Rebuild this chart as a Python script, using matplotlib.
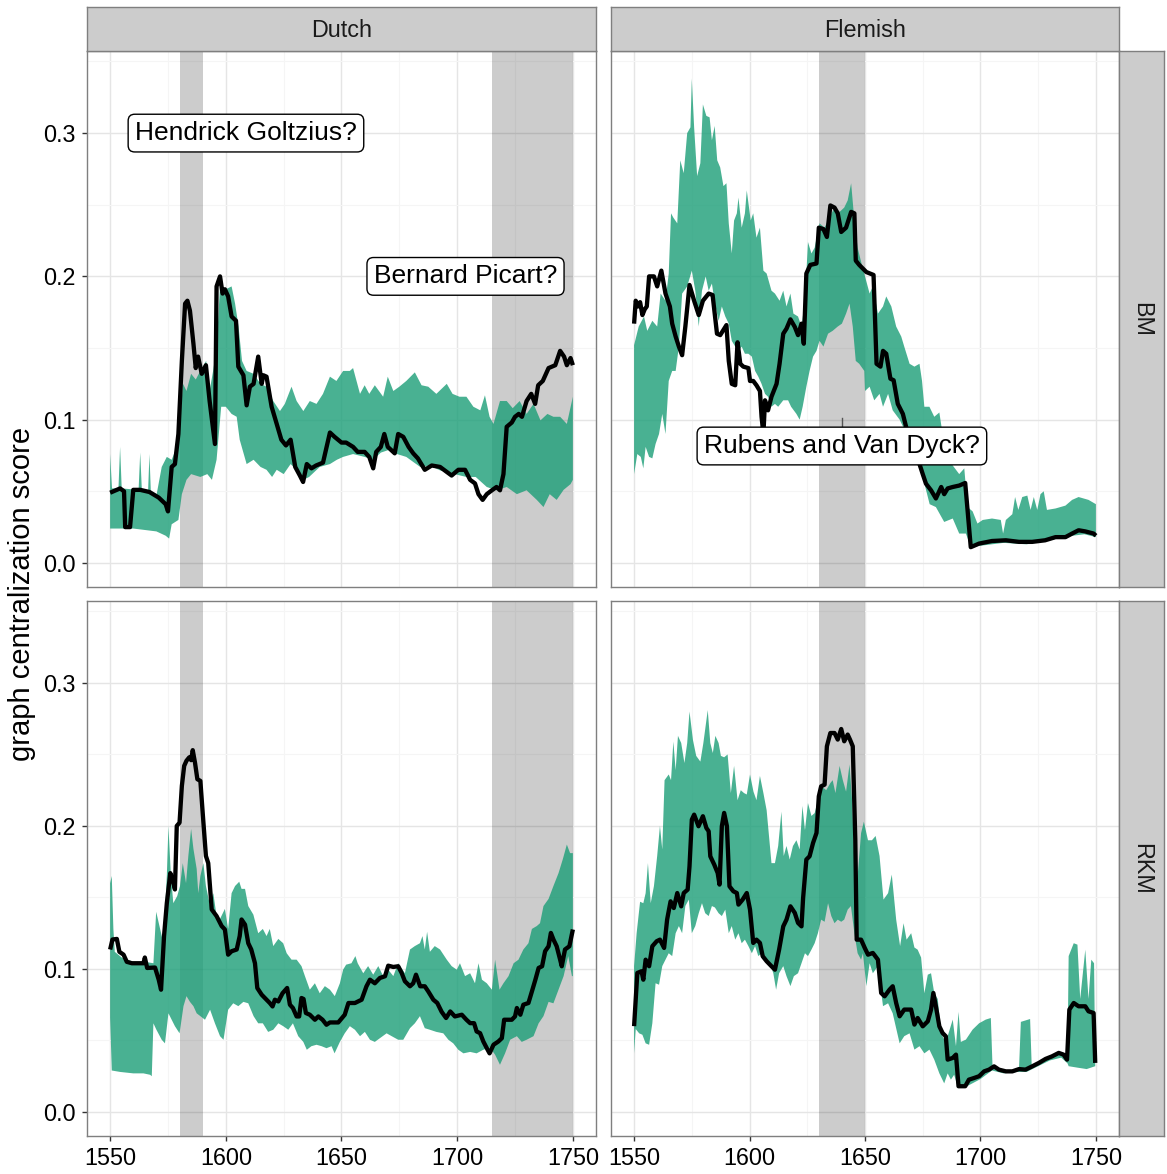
import matplotlib.pyplot as plt
import numpy as np
from matplotlib.ticker import MultipleLocator, FormatStrFormatter

plt.rcParams['font.family'] = ['Liberation Sans', 'DejaVu Sans']

# ---- values: (year, score) pairs ----
dutch_bm_line = [
    (1550, .049), (1554.3, .052), (1556, .050), (1556.5, .025), (1558.6, .025), (1560, .051),
    (1563, .051), (1567, .0495), (1571, .0456), (1574, .041), (1575, .036), (1576.6, .067),
    (1578, .069), (1579.5, .090), (1581, .141), (1582.4, .181), (1583.4, .183), (1584.5, .176),
    (1586, .153), (1587, .136), (1588, .144), (1589.6, .132), (1591.4, .138), (1593, .113),
    (1595.3, .083), (1596, .193), (1597.5, .200), (1598.6, .188), (1599.6, .191), (1601, .186),
    (1602.5, .172), (1604.4, .169), (1605.4, .137), (1607.6, .131), (1609, .110), (1610.4, .123),
    (1612, .125), (1614, .144), (1615.5, .125), (1616.2, .131), (1617.6, .130), (1619.8, .109),
    (1622, .097), (1624, .086), (1626, .082), (1628, .086), (1630, .067), (1632, .061),
    (1633.4, .0565), (1635, .069), (1637, .066), (1639, .068), (1642, .070), (1645, .091),
    (1647, .088), (1650, .084), (1652, .084), (1655, .081), (1657, .0775), (1660, .0775),
    (1662, .074), (1663.7, .066), (1665, .0775), (1667, .081), (1668.5, .090), (1670, .081),
    (1673, .0765), (1674.5, .090), (1676.7, .088), (1679, .081), (1681, .0765), (1683, .073),
    (1686, .065), (1689, .068), (1692.6, .067), (1695.5, .0635), (1697.6, .061), (1700.5, .065),
    (1703.4, .065), (1705.6, .058), (1707.7, .0555), (1709.2, .048), (1711, .044), (1712.8, .048),
    (1715, .0507), (1717, .053), (1718.5, .0507), (1720, .062), (1721.4, .095), (1723.6, .098),
    (1725, .102), (1726.6, .104), (1728, .102), (1730, .113), (1732, .118), (1733.7, .111),
    (1735, .124), (1737, .127), (1739.5, .136), (1742.4, .138), (1744.5, .148), (1746.2, .144),
    (1747.4, .138), (1749, .143), (1750, .138),
]
dutch_bm_upper = [
    (1550, .076), (1550.8, .052), (1553.6, .052), (1554.3, .081), (1555, .052), (1562.3, .051),
    (1563, .077), (1563.7, .051), (1566.4, .050), (1567, .076), (1567.6, .049), (1570, .047),
    (1572.3, .067), (1574.5, .074), (1576.6, .072), (1578.8, .081), (1580.2, .100), (1581.5, .125),
    (1583, .120), (1585, .132), (1587, .128), (1589, .134), (1591.5, .141), (1593, .120),
    (1594.5, .134), (1596, .150), (1597.5, .193), (1600, .191), (1602.5, .193), (1604, .181),
    (1605.5, .165), (1607, .141), (1609, .134), (1612, .132), (1615, .125), (1617.6, .123),
    (1620.5, .113), (1623.4, .106), (1625.5, .111), (1628.4, .123), (1630.6, .113), (1633.5, .106),
    (1636.3, .113), (1639.2, .111), (1642, .118), (1645, .130), (1647.8, .127), (1650.7, .134),
    (1653.6, .134), (1655, .136), (1658, .118), (1660, .124), (1662, .118), (1664.4, .124),
    (1668, .116), (1670, .130), (1672.4, .120), (1675, .123), (1678, .127), (1681.7, .133),
    (1684.6, .124), (1687.5, .123), (1691, .118), (1695.5, .125), (1698, .118), (1701, .116),
    (1704, .116), (1707, .109), (1710, .1065), (1712, .117), (1714, .102), (1715.7, .097),
    (1718.5, .113), (1721.4, .113), (1724, .108), (1727, .113), (1730, .104), (1733, .111),
    (1736, .0995), (1739, .104), (1741.6, .102), (1744.5, .102), (1747.4, .097), (1750, .116),
]
dutch_bm_lower = [
    (1550, .024), (1560, .024), (1565, .023), (1570, .022), (1574, .019), (1575.5, .017),
    (1576.6, .027), (1579.5, .030), (1581, .048), (1583, .058), (1585, .062), (1589, .060),
    (1592, .062), (1594, .058), (1596, .072), (1598, .109), (1600, .109), (1602.5, .104),
    (1604.7, .102), (1606, .086), (1609, .069), (1612, .072), (1615, .067), (1617.6, .065),
    (1620, .060), (1622, .065), (1625, .062), (1628, .069), (1630.6, .065), (1633.5, .058),
    (1636, .060), (1640.6, .067), (1645, .069), (1648, .072), (1650.7, .074), (1655, .076),
    (1660, .074), (1663.7, .072), (1667, .077), (1670.7, .079), (1674, .076), (1678, .074),
    (1684, .067), (1688, .068), (1692.6, .0646), (1698, .0623), (1704, .060), (1708, .060),
    (1712.8, .053), (1717, .0507), (1721.4, .053), (1725.8, .048), (1730, .0507), (1734.4, .044),
    (1737.3, .039), (1740, .048), (1743, .044), (1746, .051), (1749, .055), (1750, .058),
]

flemish_bm_line = [
    (1550, .167), (1550.7, .183), (1551.7, .179), (1552.6, .182), (1553.6, .173), (1554.6, .177),
    (1555.5, .179), (1556.5, .200), (1558.6, .200), (1560, .193), (1561.8, .204), (1563.6, .188),
    (1565.5, .179), (1566.5, .167), (1568, .158), (1569.4, .151), (1570.8, .145), (1572.2, .165),
    (1574, .194), (1576, .183), (1578, .173), (1579.8, .183), (1582.3, .188), (1584, .187),
    (1585.9, .160), (1587.3, .159), (1590, .166), (1591, .141), (1592.3, .125), (1593.8, .124),
    (1594.8, .154), (1596, .139), (1597.3, .137), (1599.5, .136), (1600.2, .127), (1601.6, .127),
    (1603, .124), (1604.5, .120), (1605.2, .102), (1606, .090), (1606.7, .1135), (1608, .1065),
    (1609.5, .116), (1611.7, .125), (1613, .139), (1614.6, .160), (1616, .1635), (1617.7, .170),
    (1619.6, .1647), (1621, .159), (1622.5, .167), (1623.5, .153), (1624.6, .202), (1626.3, .208),
    (1629, .209), (1630, .234), (1632, .233), (1633.5, .2275), (1635, .2495), (1636.8, .248),
    (1638.2, .244), (1639.7, .231), (1641.8, .234), (1644, .245), (1645.4, .244), (1646, .211),
    (1647.5, .208), (1650.6, .203), (1653.7, .201), (1655, .139), (1656.7, .137), (1657.8, .148),
    (1659.2, .146), (1661, .1286), (1662.4, .1275), (1664.2, .111), (1666.4, .104), (1667.8, .095),
    (1670.7, .074), (1673.6, .069), (1675, .062), (1676.4, .0553), (1678.6, .0507), (1680.7, .045),
    (1683, .053), (1684.3, .048), (1685.8, .052), (1688, .053), (1690.8, .054), (1693.4, .0558),
    (1695.8, .011), (1699.4, .0135), (1705, .0153), (1711, .0158), (1716.7, .0147), (1722.4, .0147),
    (1728, .0158), (1732.5, .018), (1736.8, .018), (1739.7, .0205), (1742.5, .0228), (1745.4, .022),
    (1749, .0205), (1750, .019),
]
flemish_bm_upper = [
    (1550, .152), (1552, .165), (1554.3, .172), (1555.7, .162), (1557.9, .169), (1560, .165),
    (1561.5, .188), (1563.6, .183), (1565, .202), (1566, .244), (1567, .241), (1568.7, .237),
    (1570, .281), (1571.5, .272), (1573, .300), (1574.4, .304), (1575, .338), (1576, .304),
    (1577.3, .270), (1578.7, .279), (1579.8, .320), (1581.3, .312), (1582.7, .311), (1583.7, .295),
    (1584.9, .305), (1586, .281), (1587.3, .276), (1588.7, .263), (1590, .265), (1591, .237),
    (1592.3, .216), (1593.3, .239), (1594.5, .244), (1595.2, .255), (1596.6, .234), (1598, .244),
    (1598.8, .260), (1600.5, .239), (1601.6, .244), (1603, .227), (1604.5, .234), (1606, .204),
    (1607.4, .202), (1609.5, .190), (1611, .188), (1613, .183), (1614.6, .190), (1616, .179),
    (1617.7, .188), (1619, .174), (1621, .172), (1622.5, .165), (1624, .183), (1625.3, .224),
    (1626.8, .216), (1628.2, .220), (1630.3, .237), (1632.5, .234), (1634.6, .241), (1636.8, .248),
    (1639, .245), (1641, .248), (1642.5, .253), (1644, .265), (1645.4, .239), (1646.8, .220),
    (1648.5, .209), (1650, .200), (1652, .188), (1653.4, .193), (1655.6, .174), (1657.8, .179),
    (1659.2, .186), (1661.4, .179), (1663.5, .165), (1665.7, .158), (1667, .151), (1669.3, .139),
    (1671.4, .137), (1673.6, .139), (1674.7, .127), (1675.7, .109), (1677.9, .109), (1680, .102),
    (1682.2, .105), (1683.6, .090), (1686, .075), (1688, .068), (1690.8, .062), (1693, .066),
    (1694.4, .039), (1696.6, .036), (1698.7, .0275), (1701, .030), (1705, .031), (1708.8, .030),
    (1709.8, .0205), (1711, .030), (1713.8, .034), (1715, .046), (1716.4, .037), (1718.1, .046),
    (1720.3, .047), (1721.7, .037), (1723.1, .046), (1724.6, .037), (1726, .048), (1727.4, .050),
    (1728.8, .037), (1732.5, .038), (1736.8, .040), (1739.7, .044), (1742.5, .046), (1746.8, .044),
    (1750, .041),
]
flemish_bm_lower = [
    (1550, .062), (1551.4, .076), (1552.9, .074), (1554, .066), (1555, .081), (1556.5, .074),
    (1557.9, .073), (1559.3, .083), (1560.8, .090), (1562.2, .104), (1563.6, .090), (1565, .127),
    (1566.5, .134), (1568, .134), (1569.4, .151), (1570.8, .188), (1573, .193), (1575, .204),
    (1576.5, .190), (1578, .165), (1579.4, .190), (1581, .200), (1582.3, .190), (1583.7, .195),
    (1585, .181), (1586.6, .169), (1588, .179), (1589.5, .172), (1591, .167), (1592.3, .155),
    (1593.8, .151), (1595.2, .148), (1596.6, .151), (1598, .146), (1599.5, .146), (1601, .144),
    (1602.4, .134), (1603.8, .130), (1605.2, .125), (1606.7, .118), (1608, .116), (1609.5, .109),
    (1611, .111), (1612.4, .109), (1614.6, .1135), (1616.7, .1135), (1618, .109), (1620.3, .104),
    (1621.7, .100), (1623, .109), (1624.6, .123), (1626, .134), (1627.5, .144), (1629, .148),
    (1630.3, .155), (1632, .151), (1634, .160), (1636, .162), (1638.2, .165), (1640, .167),
    (1641.8, .174), (1643.3, .181), (1644.7, .165), (1646, .141), (1647.5, .139), (1649.7, .134),
    (1650, .120), (1652, .123), (1654, .1135), (1656.3, .118), (1657.8, .109), (1660, .118),
    (1662, .1065), (1665, .100), (1668, .090), (1671, .075), (1673, .068), (1675, .060),
    (1678, .041), (1680.7, .039), (1684.3, .0286), (1688, .031), (1690.8, .0205), (1693.7, .0205),
    (1695.8, .011), (1700, .012), (1710, .014), (1720, .013), (1730, .016), (1740, .019),
    (1745, .020), (1750, .018),
]

dutch_rkm_line = [
    (1550, .1136), (1551, .1206), (1552.9, .121), (1554, .112), (1555.8, .110), (1557.2, .105),
    (1559.4, .104), (1564.4, .104), (1565, .108), (1566, .1007), (1569.4, .101), (1571, .0925),
    (1572, .0855), (1573.3, .123), (1574.5, .146), (1576, .167), (1577, .1626), (1578, .1556),
    (1578.8, .200), (1580, .2023), (1581, .228), (1582, .242), (1583, .2456), (1584.2, .248),
    (1585, .246), (1585.7, .253), (1586.7, .244), (1587.7, .2327), (1589, .2315), (1590, .2093),
    (1591.4, .179), (1592.4, .174), (1593.9, .1416), (1596, .137), (1598.2, .130), (1599.6, .1276),
    (1601, .110), (1602.5, .1124), (1604.7, .1136), (1606, .123), (1606.8, .1346), (1608.3, .131),
    (1609.7, .118), (1611, .1136), (1612.6, .104), (1613.6, .0867), (1615.5, .082), (1617.6, .0785),
    (1619, .0762), (1620.2, .0738), (1621.2, .0785), (1622.7, .0773), (1624.5, .083), (1626.5, .0867),
    (1627.7, .075), (1629, .0727), (1630.6, .0668), (1631.7, .0668), (1632.7, .0797), (1633.6, .079),
    (1634.6, .0692), (1636.3, .068), (1638.5, .0645), (1640, .0668), (1641.8, .0645), (1643.5, .061),
    (1645, .0626), (1648.6, .0626), (1651.4, .068), (1653, .0762), (1655.8, .0762), (1658.7, .0785),
    (1660.8, .0879), (1662.3, .0925), (1664.4, .090), (1666.6, .0937), (1668.8, .0949), (1670.2, .1023),
    (1672.4, .1014), (1674.5, .1019), (1676, .0972), (1677.4, .0914), (1679.6, .0879), (1681, .090),
    (1682.2, .096), (1684, .0879), (1686, .0879), (1687.5, .0843), (1689.7, .0785), (1691.4, .0762),
    (1693.3, .070), (1695.2, .0657), (1697, .0703), (1699, .0668), (1702, .068), (1704, .0645),
    (1705.6, .0621), (1707.3, .0621), (1708.4, .0563), (1709.9, .0551), (1711.3, .0493), (1712.8, .0446),
    (1714, .041), (1715.7, .047), (1717.8, .0493), (1719.3, .0516), (1720.3, .0645), (1723.6, .0645),
    (1725, .0668), (1725.8, .0727), (1727.3, .068), (1728.6, .075), (1730.8, .0762), (1732.3, .0843),
    (1733.8, .0925), (1735.2, .1007), (1736.7, .1019), (1738, .1124), (1739.5, .1159), (1740.5, .1252),
    (1741.6, .1206), (1743, .1159), (1744.5, .1065), (1745.2, .1019), (1746.6, .1136), (1748.5, .1159),
    (1750, .1276),
]
dutch_rkm_upper = [
    (1550, .160), (1550.7, .165), (1551.4, .128), (1552, .112), (1555, .108), (1560, .105),
    (1565, .105), (1568.7, .104), (1569.9, .140), (1571.6, .128), (1573, .118), (1574.5, .165),
    (1575.2, .200), (1576.2, .167), (1577.3, .146), (1579, .151), (1580.2, .158), (1581.4, .174),
    (1582.8, .160), (1583.8, .179), (1585, .198), (1586, .184), (1587.4, .170), (1588.1, .153),
    (1589, .165), (1590.3, .174), (1591.4, .158), (1593.2, .144), (1594.6, .153), (1596, .137),
    (1597.5, .135), (1599.6, .142), (1601, .128), (1602.5, .153), (1604, .158), (1605.8, .161),
    (1606.8, .156), (1608.3, .156), (1609.7, .144), (1611.9, .138), (1614, .125), (1616, .128),
    (1617.6, .123), (1619, .128), (1620.5, .116), (1622.7, .121), (1624.8, .118), (1626.3, .111),
    (1628.4, .1065), (1630.6, .1065), (1632.7, .102), (1634.2, .095), (1636.3, .0855), (1638.5, .090),
    (1640.6, .083), (1642.8, .088), (1645, .0855), (1647.1, .081), (1649.3, .090), (1650.7, .0995),
    (1652, .103), (1654.3, .104), (1656, .109), (1657, .104), (1659.4, .097), (1661.5, .102),
    (1663.7, .096), (1665.9, .102), (1668, .095), (1670.2, .0995), (1672.4, .095), (1674.5, .104),
    (1677.4, .097), (1679.6, .1136), (1681.7, .116), (1683.9, .118), (1685, .123), (1686, .1136),
    (1687, .126), (1688.2, .112), (1690.3, .116), (1692.6, .1136), (1695.5, .1065), (1697.6, .102),
    (1699.8, .0995), (1701.2, .104), (1703.4, .095), (1705.6, .097), (1707.7, .090), (1709.2, .104),
    (1710.7, .0925), (1712.8, .090), (1715, .0855), (1716.4, .1065), (1718.3, .0855), (1720, .090),
    (1722.2, .095), (1724.4, .104), (1726.5, .1065), (1728.6, .1136), (1730.8, .118), (1732.3, .128),
    (1734.4, .130), (1735.8, .132), (1737.3, .144), (1739.5, .149), (1741.6, .158), (1743.8, .167),
    (1745.7, .177), (1747.4, .187), (1748.8, .181), (1750, .181),
]
dutch_rkm_lower = [
    (1550, .066), (1550.7, .029), (1554.3, .028), (1560, .027), (1564.4, .027), (1567.3, .026),
    (1568, .025), (1568.7, .062), (1570, .0575), (1572.3, .0505), (1573.7, .048), (1575.2, .069),
    (1576.6, .0645), (1578, .060), (1580, .055), (1581.7, .074), (1583, .081), (1584.5, .077),
    (1586, .074), (1587.4, .069), (1589, .067), (1591, .0645), (1593.2, .0715), (1595.3, .062),
    (1597.5, .053), (1599, .0505), (1601, .0715), (1603.2, .076), (1605.4, .074), (1607.6, .077),
    (1609.7, .076), (1612, .067), (1614, .062), (1616, .062), (1618.3, .056), (1620.5, .0575),
    (1622.7, .062), (1624.8, .060), (1627, .0575), (1629, .062), (1631.3, .053), (1633.5, .049),
    (1635, .0435), (1637, .046), (1639.2, .047), (1641.4, .046), (1643.5, .0446), (1645.7, .046),
    (1647, .041), (1649.3, .049), (1651.4, .055), (1653.6, .060), (1655.8, .0575), (1658, .053),
    (1660.1, .056), (1662.3, .0505), (1664.4, .049), (1666.6, .0516), (1669.5, .055), (1671.7, .053),
    (1674.5, .0505), (1676.7, .0505), (1679.6, .0586), (1681.7, .062), (1683.9, .067), (1686, .0586),
    (1688.2, .0575), (1691, .056), (1694, .055), (1696.2, .0505), (1698.3, .048), (1700.5, .0435),
    (1702.7, .041), (1705.6, .042), (1708.4, .041), (1711.3, .0435), (1714.2, .045), (1716.4, .040),
    (1718.5, .033), (1720.7, .041), (1722.9, .0505), (1725.8, .053), (1727.9, .049), (1730, .0505),
    (1733, .053), (1735.2, .062), (1737.3, .067), (1739.5, .077), (1741.6, .076), (1743.8, .0855),
    (1746, .095), (1748, .109), (1749.6, .095), (1750, .095),
]

flemish_rkm_line = [
    (1550, .060), (1551.4, .0972), (1553.2, .0984), (1554, .0925), (1555, .1065), (1556.5, .1019),
    (1557.9, .1159), (1559.8, .1194), (1561.2, .1205), (1563, .1147), (1564.3, .1345), (1565.8, .1473),
    (1567.2, .1426), (1568.7, .1531), (1570.4, .1438), (1571.5, .1531), (1573.2, .1555), (1574, .1718),
    (1575, .2044), (1576, .2079), (1577.9, .1998), (1579.8, .2068), (1581.3, .1986), (1582.3, .1963),
    (1583, .1788), (1584.7, .173), (1586.2, .1671), (1587, .159), (1588, .1998), (1589, .2091),
    (1590.2, .1998), (1591.3, .1578), (1593, .1543), (1594.5, .1531), (1595.2, .145), (1597, .1485),
    (1598.8, .1531), (1600.2, .1415), (1601.6, .1182), (1603, .1205), (1604.5, .1182), (1605.7, .1089),
    (1607.4, .1054), (1609.5, .1019), (1611, .0995), (1612.8, .1135), (1614.6, .1298), (1616, .1345),
    (1617.7, .1438), (1619.6, .1392), (1621, .1322), (1622.5, .1298), (1623.2, .1497), (1624.6, .1765),
    (1626, .1788), (1627.5, .1881), (1629, .1951), (1630, .2207), (1631, .2277), (1632.5, .2289),
    (1633.5, .2557), (1635, .265), (1636.8, .265), (1638.2, .2604), (1639.7, .2678), (1641, .2592),
    (1642.5, .2639), (1643.5, .2604), (1644.7, .2557), (1645.8, .1904), (1646.4, .1205), (1648.3, .1205),
    (1649.9, .1147), (1651.3, .110), (1653.4, .1112), (1655.6, .1065), (1657, .0832), (1658.5, .0809),
    (1660.6, .0855), (1662, .0879), (1663.5, .0762), (1665, .0669), (1667, .0716), (1670, .0716),
    (1671.4, .0611), (1672.8, .0657), (1675, .0599), (1677.2, .0634), (1678.6, .0716), (1679.6, .0832),
    (1680.7, .0739), (1682.2, .0599), (1683.6, .0552), (1685, .0529), (1685.8, .0366), (1688, .0378),
    (1689.4, .0401), (1690.5, .018), (1693.4, .018), (1695, .0226), (1697.3, .0238), (1699.4, .025),
    (1701.6, .0284), (1703.7, .0296), (1705.9, .0319), (1708, .0296), (1711, .0284), (1713.8, .0284),
    (1716.7, .030), (1719.5, .0296), (1722.4, .0319), (1725.3, .0343), (1728.2, .0371), (1731, .0389),
    (1733.9, .0413), (1736, .0401), (1737.5, .0366), (1738.5, .0716), (1740.4, .0762), (1742.5, .0739),
    (1745.4, .0739), (1746.8, .0704), (1749, .0692), (1749.7, .0343),
]
flemish_rkm_upper = [
    (1550, .102), (1551.1, .125), (1552.6, .147), (1554, .146), (1555, .153), (1556, .174),
    (1557.2, .146), (1558.6, .158), (1560, .179), (1561.2, .200), (1562.2, .1835), (1563.2, .232),
    (1565, .236), (1566, .232), (1567, .259), (1568, .239), (1569, .263), (1570.4, .258),
    (1571.8, .244), (1573, .258), (1574, .280), (1575.5, .260), (1576.9, .249), (1578.7, .245),
    (1580, .258), (1581.9, .281), (1583, .258), (1584.1, .251), (1585.2, .263), (1586.6, .258),
    (1587.6, .249), (1589, .248), (1590.5, .250), (1591.9, .223), (1593.3, .242), (1594.8, .218),
    (1596.2, .225), (1597.6, .223), (1598.8, .222), (1600.2, .236), (1601.7, .224), (1603, .218),
    (1604.5, .235), (1606, .223), (1607.4, .211), (1609.5, .174), (1611, .174), (1612.4, .186),
    (1613.8, .210), (1614.8, .179), (1616, .186), (1617.4, .1765), (1618.8, .186), (1620.3, .190),
    (1621.7, .1835), (1622.9, .214), (1624, .197), (1625.3, .216), (1626.8, .207), (1628.2, .209),
    (1629.6, .218), (1631, .228), (1633.2, .225), (1635, .230), (1636, .232), (1637.2, .223),
    (1639, .242), (1640.4, .232), (1641.8, .224), (1643.3, .243), (1644.4, .218), (1646, .1485),
    (1648.3, .195), (1649.5, .203), (1651.3, .190), (1653, .190), (1654.6, .193), (1656.3, .179),
    (1658, .1485), (1660, .153), (1661.6, .166), (1663.5, .1345), (1665.2, .116), (1666.7, .132),
    (1668, .1205), (1670, .125), (1671.4, .115), (1672.8, .1135), (1674.3, .108), (1675.7, .083),
    (1677.2, .096), (1678.6, .097), (1680, .083), (1681.5, .079), (1683, .055), (1684.3, .0506),
    (1685.8, .053), (1688, .0646), (1689.4, .046), (1690.5, .070), (1691.5, .049), (1693.7, .0506),
    (1696.6, .0576), (1699.4, .062), (1702.3, .0646), (1704.5, .0657), (1705.2, .033), (1708, .030),
    (1711, .029), (1714, .029), (1716.7, .030), (1717.5, .063), (1721.5, .065), (1722.2, .032),
    (1725.3, .0343), (1728.2, .0371), (1731, .039), (1733.9, .0413), (1736, .040), (1737.7, .038),
    (1738.2, .109), (1740.4, .118), (1742, .117), (1743.2, .079), (1745.4, .1135), (1746.8, .079),
    (1748, .1065), (1749.2, .104), (1749.7, .034),
]
flemish_rkm_lower = [
    (1550, .041), (1550.7, .058), (1552.2, .055), (1553.6, .054), (1555, .048), (1556.5, .047),
    (1557.9, .062), (1559.3, .090), (1560.8, .089), (1562.2, .102), (1563.6, .1065), (1565, .111),
    (1566.5, .109), (1568, .125), (1569.4, .130), (1570.8, .125), (1572.2, .144), (1573.7, .1485),
    (1575, .125), (1576.5, .130), (1578, .139), (1579.4, .146), (1580.8, .139), (1582.3, .137),
    (1583.7, .144), (1585, .143), (1586.6, .139), (1588, .137), (1589.5, .1415), (1591, .125),
    (1592.3, .130), (1593.8, .1205), (1595.2, .125), (1596.6, .118), (1598, .1205), (1599.5, .116),
    (1601, .111), (1602.4, .116), (1603.8, .109), (1605.2, .111), (1606.7, .1065), (1608.8, .104),
    (1610.3, .097), (1611.5, .0855), (1612.8, .097), (1614.6, .102), (1616, .095), (1617.7, .088),
    (1619.2, .095), (1621, .097), (1622.5, .104), (1624, .111), (1625.3, .109), (1626.8, .1135),
    (1628.2, .118), (1629.6, .125), (1631, .1345), (1632.5, .133), (1634, .146), (1635.4, .137),
    (1636.8, .132), (1638.2, .1345), (1639.7, .133), (1641, .1345), (1642.5, .1415), (1643.9, .144),
    (1645.4, .125), (1646.8, .111), (1648.3, .1065), (1649.1, .111), (1650.6, .088), (1652, .104),
    (1653.4, .097), (1655.6, .102), (1657.8, .074), (1660, .076), (1662, .069), (1665, .048),
    (1667, .053), (1669.3, .055), (1671.4, .0436), (1673.6, .046), (1675.7, .041), (1677.9, .0436),
    (1680, .0366), (1682.2, .027), (1684.3, .020), (1685.8, .027), (1687.2, .0226), (1688.6, .026),
    (1690.1, .018), (1693, .017), (1700, .023), (1705, .029), (1710, .027), (1716, .028),
    (1720, .028), (1725, .032), (1730, .036), (1735, .038), (1737.7, .034), (1738.2, .032),
    (1742, .031), (1746, .030), (1749.7, .032),
]

# shaded periods per school
dutch_periods = [(1580, 1590), (1715, 1750)]
flemish_periods = [(1630, 1650)]

# annotations: (school, collection, year, score, text)
annotations = [
    ("Dutch", "BM", 1608.7, 0.3, "Hendrick Goltzius?"),
    ("Dutch", "BM", 1703.6, 0.2, "Bernard Picart?"),
    ("Flemish", "BM", 1640, 0.0816, "Rubens and Van Dyck?"),
]

schools = ["Dutch", "Flemish"]
collections = ["BM", "RKM"]

GREEN = "#1b9e77"
GRID_MAJOR = "#e5e5e5"
GRID_MINOR = "#f5f5f5"
BORDER = "#7f7f7f"
STRIP = "#cccccc"

series = {
    ("Dutch", "BM"): (dutch_bm_line, dutch_bm_upper, dutch_bm_lower, dutch_periods),
    ("Flemish", "BM"): (flemish_bm_line, flemish_bm_upper, flemish_bm_lower, flemish_periods),
    ("Dutch", "RKM"): (dutch_rkm_line, dutch_rkm_upper, dutch_rkm_lower, dutch_periods),
    ("Flemish", "RKM"): (flemish_rkm_line, flemish_rkm_upper, flemish_rkm_lower, flemish_periods),
}

W, H = 1167, 1174
fig = plt.figure(figsize=(W / 100, H / 100), dpi=100)

col_px = {"Dutch": (87, 596), "Flemish": (611, 1119)}
row_px = {"BM": (51, 587), "RKM": (601, 1136)}


def px_box(x0, x1, y0, y1):
    return [x0 / W, 1 - y1 / H, (x1 - x0) / W, (y1 - y0) / H]


for school in schools:
    for coll in collections:
        line, upper, lower, periods = series[(school, coll)]
        x0, x1 = col_px[school]
        y0, y1 = row_px[coll]
        ax = fig.add_axes(px_box(x0, x1, y0, y1))
        ax.set_xlim(1540, 1760)
        ax.set_ylim(-0.0168, 0.3573)

        for a, b in periods:
            ax.axvspan(a, b, color="black", alpha=0.2, lw=0, zorder=1)

        up = np.array(upper).T
        lo = np.array(lower).T
        ax.fill(np.concatenate([up[0], lo[0][::-1]]), np.concatenate([up[1], lo[1][::-1]]),
                color=GREEN, alpha=0.8, lw=0, zorder=2)

        ln = np.array(line).T
        ax.plot(ln[0], ln[1], color="black", lw=3.1, solid_joinstyle="round",
                solid_capstyle="butt", zorder=3)

        ax.xaxis.set_major_locator(MultipleLocator(50))
        ax.xaxis.set_minor_locator(MultipleLocator(25))
        ax.yaxis.set_major_locator(MultipleLocator(0.1))
        ax.yaxis.set_minor_locator(MultipleLocator(0.05))
        ax.yaxis.set_major_formatter(FormatStrFormatter("%.1f"))
        ax.set_axisbelow(True)
        ax.grid(which="major", color=GRID_MAJOR, lw=1.0)
        ax.grid(which="minor", color=GRID_MINOR, lw=0.8)
        for s in ax.spines.values():
            s.set_color(BORDER)
            s.set_linewidth(1.0)
        ax.tick_params(which="minor", length=0)
        ax.tick_params(which="major", length=3.5, width=1, color="#333333",
                       labelsize=16.8, labelcolor="black", pad=4.5)
        if school != "Dutch":
            ax.tick_params(axis="y", labelleft=False, length=0)
        if coll != "RKM":
            ax.tick_params(axis="x", labelbottom=False, length=0)

        for sch, cl, yr, val, txt in annotations:
            if sch == school and cl == coll:
                if txt.startswith("Rubens"):
                    ax.plot([yr, yr], [0.1012, 0.093], color="#555555", lw=1, zorder=4)
                ax.text(yr, val, txt, ha="center", va="center", fontsize=19, zorder=5,
                        bbox=dict(boxstyle="round,pad=0.26,rounding_size=0.25",
                                  fc="white", ec="black", lw=1))

# facet strips
for school in schools:
    x0, x1 = col_px[school]
    sax = fig.add_axes(px_box(x0, x1, 7, 51))
    sax.set_facecolor(STRIP)
    sax.set_xticks([])
    sax.set_yticks([])
    for s in sax.spines.values():
        s.set_color(BORDER)
        s.set_linewidth(1.0)
    sax.text(0.5, 0.47, school, ha="center", va="center", fontsize=16.8, color="#1a1a1a",
             transform=sax.transAxes)

for coll in collections:
    y0, y1 = row_px[coll]
    sax = fig.add_axes(px_box(1119, 1164, y0, y1))
    sax.set_facecolor(STRIP)
    sax.set_xticks([])
    sax.set_yticks([])
    for s in sax.spines.values():
        s.set_color(BORDER)
        s.set_linewidth(1.0)
    sax.text(0.5, 0.5, coll, ha="center", va="center", fontsize=16.8, color="#1a1a1a",
             rotation=-90, transform=sax.transAxes)

fig.text(22 / W, 1 - 593.5 / H, "graph centralization score", rotation=90,
         ha="center", va="center", fontsize=21)

fig.savefig("out.png", dpi=100)
